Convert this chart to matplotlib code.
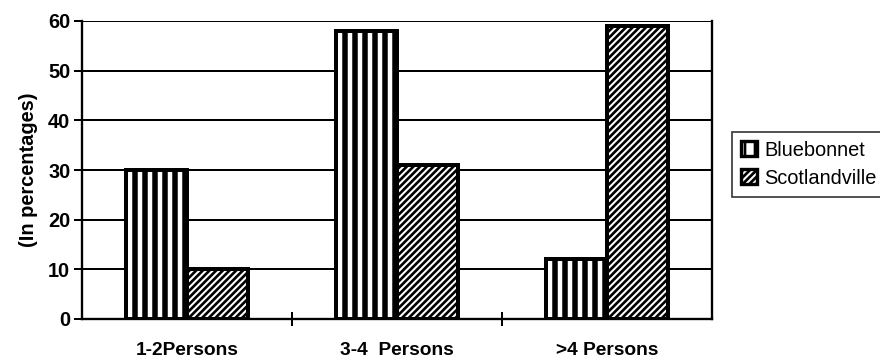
import matplotlib
matplotlib.use("Agg")
import matplotlib.pyplot as plt
import numpy as np
import types

categories = ["1-2Persons", "3-4  Persons", ">4 Persons"]
bluebonnet = [30, 58, 12]
scotlandville = [10, 31, 59]
series_names = ["Bluebonnet", "Scotlandville"]
yticks = [0, 10, 20, 30, 40, 50, 60]

plt.rcParams['font.family'] = ['Liberation Sans', 'DejaVu Sans']
plt.rcParams['hatch.color'] = 'black'

DPI = 120
fig = plt.figure(figsize=(880 / DPI, 360 / DPI), dpi=DPI)
ax = fig.add_axes([82 / 880, 1 - 319 / 360, (712 - 82) / 880, (319 - 21) / 360])

x = np.arange(len(categories))
w = 0.29


def with_hatch_lw(patch, lw):
    orig = patch.draw
    if hasattr(patch, 'set_hatch_linewidth'):
        patch.set_hatch_linewidth(lw)
    patch._hatch_linewidth = lw

    def draw(self, renderer):
        with plt.rc_context({'hatch.linewidth': lw}):
            orig(renderer)
    patch.draw = types.MethodType(draw, patch)


LW_V = 3.3
LW_D = 1.6
plt.rcParams['hatch.linewidth'] = LW_V
b1 = ax.bar(x - w / 2, bluebonnet, w, color='white', edgecolor='black',
            hatch='||', linewidth=2.4, zorder=3, label=series_names[0])
for p in b1:
    with_hatch_lw(p, LW_V)
plt.rcParams['hatch.linewidth'] = LW_D
b2 = ax.bar(x + w / 2, scotlandville, w, color='white', edgecolor='black',
            hatch='//////', linewidth=2.4, zorder=3, label=series_names[1])
for p in b2:
    with_hatch_lw(p, LW_D)

ax.set_xlim(-0.5, len(categories) - 0.5)
ax.set_ylim(0, 60)
ax.set_yticks(yticks)
ax.set_yticklabels([str(v) for v in yticks], fontsize=12, fontweight='bold')
ax.yaxis.grid(True, color='black', linewidth=1.2, zorder=1)
ax.set_axisbelow(True)

ax.set_xticks(x)
ax.set_xticklabels(categories, fontsize=11.5, fontweight='bold')
ax.tick_params(axis='x', which='major', length=0, pad=14)
ax.set_xticks(x[:-1] + 0.5, minor=True)
ax.tick_params(axis='x', which='minor', direction='inout', length=8, width=1.2)
ax.tick_params(axis='y', direction='out', length=5, width=1.2, pad=2)

for s in ['left', 'bottom', 'right']:
    ax.spines[s].set_linewidth(1.4)
ax.spines['top'].set_visible(False)

ax.set_ylabel("(In percentages)", fontsize=12, fontweight='bold', labelpad=6)

leg = ax.legend(loc='center left', bbox_to_anchor=(1.032, 0.52), frameon=True,
                fancybox=False, edgecolor='black', fontsize=12,
                handlelength=0.8, handleheight=0.8, handletextpad=0.35,
                borderpad=0.45, borderaxespad=0, labelspacing=0.45)
leg.get_frame().set_linewidth(1.0)
for h in leg.legend_handles:
    h.set_linewidth(2.0)

fig.savefig("out.png", dpi=DPI)
